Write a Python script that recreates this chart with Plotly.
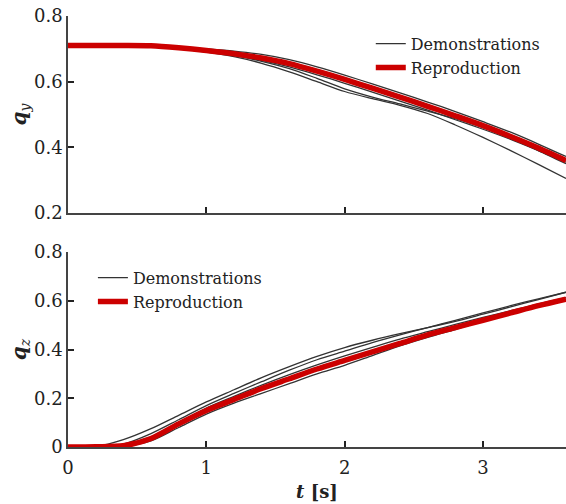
import plotly.graph_objects as go

t = [0.0, 0.2, 0.4, 0.6, 0.8, 1.0, 1.2, 1.4, 1.6, 1.8, 2.0, 2.2, 2.4, 2.6, 2.8, 3.0, 3.2, 3.4, 3.6]

# q_y demonstrations
qy_demo1 = [0.71, 0.71, 0.71, 0.710, 0.706, 0.700, 0.693, 0.683, 0.667, 0.645, 0.620, 0.593, 0.566, 0.538, 0.509, 0.478, 0.446, 0.410, 0.372]
qy_demo2 = [0.71, 0.71, 0.71, 0.709, 0.702, 0.693, 0.681, 0.665, 0.645, 0.621, 0.595, 0.568, 0.541, 0.513, 0.484, 0.455, 0.424, 0.390, 0.355]
qy_demo3 = [0.71, 0.71, 0.71, 0.709, 0.702, 0.692, 0.680, 0.662, 0.640, 0.610, 0.578, 0.553, 0.532, 0.510, 0.487, 0.460, 0.427, 0.390, 0.350]
qy_demo4 = [0.71, 0.71, 0.71, 0.709, 0.701, 0.690, 0.676, 0.656, 0.630, 0.600, 0.570, 0.548, 0.528, 0.503, 0.468, 0.430, 0.390, 0.348, 0.305]
qy_repro = [0.71, 0.71, 0.71, 0.709, 0.703, 0.695, 0.685, 0.672, 0.655, 0.632, 0.607, 0.580, 0.553, 0.525, 0.496, 0.466, 0.433, 0.398, 0.360]

# q_z demonstrations
qz_demo1 = [0.0, 0.002, 0.030, 0.075, 0.130, 0.185, 0.235, 0.285, 0.330, 0.372, 0.408, 0.438, 0.465, 0.490, 0.515, 0.545, 0.575, 0.605, 0.635]
qz_demo2 = [0.0, 0.001, 0.012, 0.055, 0.112, 0.170, 0.220, 0.268, 0.315, 0.358, 0.393, 0.428, 0.460, 0.490, 0.520, 0.550, 0.580, 0.608, 0.635]
qz_demo3 = [0.0, 0.001, 0.006, 0.042, 0.100, 0.160, 0.208, 0.254, 0.297, 0.337, 0.374, 0.409, 0.443, 0.473, 0.503, 0.532, 0.559, 0.587, 0.613]
qz_demo4 = [0.0, 0.001, 0.003, 0.025, 0.080, 0.135, 0.180, 0.220, 0.260, 0.300, 0.335, 0.375, 0.415, 0.450, 0.482, 0.515, 0.545, 0.578, 0.605]
qz_repro = [0.0, 0.001, 0.005, 0.035, 0.095, 0.150, 0.195, 0.240, 0.280, 0.320, 0.355, 0.390, 0.425, 0.460, 0.490, 0.520, 0.550, 0.580, 0.607]

x_ticks = [0, 1, 2, 3]
y_ticks = [0.2, 0.4, 0.6, 0.8]
yz_ticks = [0, 0.2, 0.4, 0.6, 0.8]

DEMO_COLOR = "#333333"
RED = "#cc0000"
FONT = "DejaVu Serif"

fig = go.Figure()

def add_set(demos, repro, xa, ya, legend):
    for i, d in enumerate(demos):
        fig.add_trace(go.Scatter(x=t, y=d, mode="lines", xaxis=xa, yaxis=ya,
                                 line=dict(color=DEMO_COLOR, width=1.3, shape="spline", smoothing=0.8),
                                 name="Demonstrations", legendgroup=legend + "d",
                                 showlegend=(i == 0), legend=legend))
    fig.add_trace(go.Scatter(x=t, y=repro, mode="lines", xaxis=xa, yaxis=ya,
                             line=dict(color=RED, width=5.5, shape="spline", smoothing=0.8),
                             name="Reproduction", legendgroup=legend + "r",
                             showlegend=True, legend=legend))

add_set([qy_demo1, qy_demo2, qy_demo3, qy_demo4], qy_repro, "x", "y", "legend")
add_set([qz_demo1, qz_demo2, qz_demo3, qz_demo4], qz_repro, "x2", "y2", "legend2")

axis_common = dict(showline=True, linecolor="#444444", linewidth=1.5, ticks="inside",
                   ticklen=6, tickwidth=1.5, tickcolor="#222222", showgrid=False,
                   zeroline=False, tickfont=dict(family=FONT, size=18, color="#222222"))

fig.update_layout(
    width=566, height=504,
    margin=dict(l=68, r=0, t=16, b=57),
    plot_bgcolor="white", paper_bgcolor="white",
    font=dict(family=FONT, color="#222222"),
    xaxis=dict(domain=[0, 1], range=[0, 3.6], anchor="y", tickvals=x_ticks,
               showticklabels=False, **axis_common),
    yaxis=dict(domain=[0.543, 1], range=[0.2, 0.8], anchor="x", tickvals=y_ticks,
               tickformat=".1f",
               title=dict(text="<b><i>q</i></b><sub><i>y</i></sub>", font=dict(family=FONT, size=20), standoff=2),
               **axis_common),
    xaxis2=dict(domain=[0, 1], range=[0, 3.6], anchor="y2", tickvals=x_ticks,
                ticklabelstandoff=4,
                title=dict(text="<b><i>t</i> [s]</b>", font=dict(family=FONT, size=18), standoff=8),
                **axis_common),
    yaxis2=dict(domain=[0, 0.4524], range=[0, 0.8], anchor="x2", tickvals=yz_ticks,
                ticktext=["0", "0.2", "0.4", "0.6", "0.8"],
                title=dict(text="<b><i>q</i></b><sub><i>z</i></sub>", font=dict(family=FONT, size=20), standoff=2),
                **axis_common),
    legend=dict(x=0.608, y=0.975, xanchor="left", yanchor="top", bgcolor="rgba(0,0,0,0)",
                font=dict(family=FONT, size=16, color="#222222"), tracegroupgap=0),
    legend2=dict(x=0.05, y=0.432, xanchor="left", yanchor="top", bgcolor="rgba(0,0,0,0)",
                 font=dict(family=FONT, size=16, color="#222222"), tracegroupgap=0),
)

fig.write_html("out.html")
